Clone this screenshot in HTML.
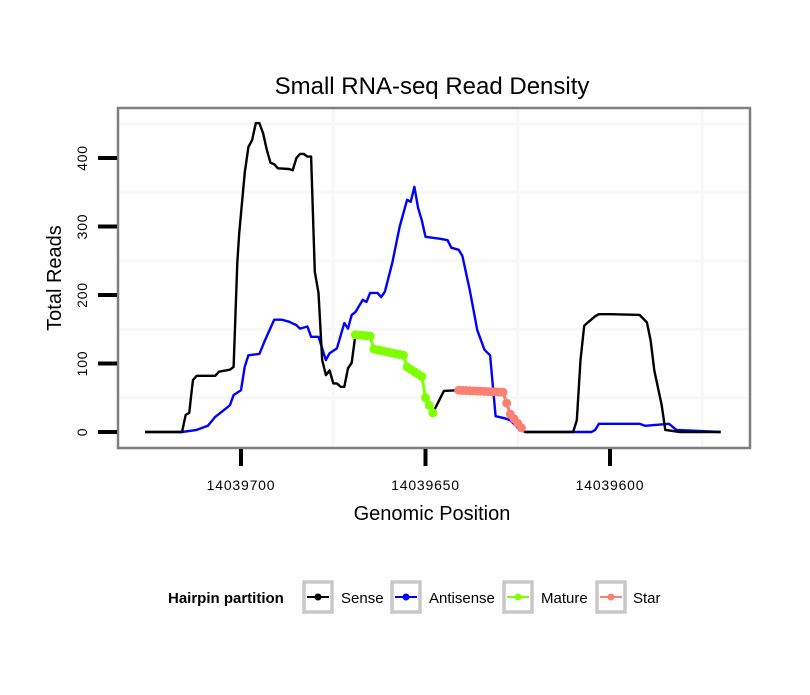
<!DOCTYPE html>
<html><head><meta charset="utf-8"><style>
body{margin:0;background:#fff;}
svg text{font-family:"Liberation Sans",sans-serif;}
</style></head><body>
<svg id="chart" width="810" height="690" xmlns="http://www.w3.org/2000/svg">
<rect width="810" height="690" fill="#fff"/>
<text x="432" y="94" font-size="24" text-anchor="middle">Small RNA-seq Read Density</text>
<g id="grid"></g>
<g id="series"></g>
<rect x="118" y="108" width="632" height="340" fill="none" stroke="#7f7f7f" stroke-width="2.5"/>
<g id="axes"></g>
<text x="432" y="520" font-size="20" text-anchor="middle">Genomic Position</text>
<text transform="translate(61,278) rotate(-90)" font-size="20" text-anchor="middle">Total Reads</text>
<g>
<text x="168" y="603" font-size="15" font-weight="bold">Hairpin partition</text>
<g>
<rect x="304" y="582" width="28" height="30" fill="#fff" stroke="#c8c8c8" stroke-width="3.5"/>
<line x1="307" y1="597" x2="329" y2="597" stroke="#000" stroke-width="2"/><circle cx="318" cy="597" r="3.5" fill="#000"/>
<text x="341" y="603" font-size="15">Sense</text></g>
<g>
<rect x="392" y="582" width="28" height="30" fill="#fff" stroke="#c8c8c8" stroke-width="3.5"/>
<line x1="395" y1="597" x2="417" y2="597" stroke="#0000ff" stroke-width="2"/><circle cx="406" cy="597" r="3.5" fill="#0000ff"/>
<text x="429" y="603" font-size="15">Antisense</text></g>
<g>
<rect x="504" y="582" width="28" height="30" fill="#fff" stroke="#c8c8c8" stroke-width="3.5"/>
<line x1="507" y1="597" x2="529" y2="597" stroke="#7fff00" stroke-width="2"/><circle cx="518" cy="597" r="3.5" fill="#7fff00"/>
<text x="541" y="603" font-size="15">Mature</text></g>
<g>
<rect x="597" y="582" width="28" height="30" fill="#fff" stroke="#c8c8c8" stroke-width="3.5"/>
<line x1="600" y1="597" x2="622" y2="597" stroke="#fa8072" stroke-width="2"/><circle cx="611" cy="597" r="3.5" fill="#fa8072"/>
<text x="633" y="603" font-size="15">Star</text></g>
</g>
</svg>
<script>
const xTicks = [14039700, 14039650, 14039600];
const xMinorGrid = [14039675, 14039625, 14039575];
const yTicks = [0, 100, 200, 300, 400];
const yMinorGrid = [50, 150, 250, 350, 450];
const senseX = [14039726,14039716,14039715,14039714,14039713.5,14039713,14039712,14039707,14039706,14039703,14039702,14039701,14039700.5,14039699,14039698,14039697,14039696,14039695,14039694,14039693,14039692,14039691,14039690,14039687,14039686,14039685,14039684,14039683,14039682,14039681,14039680,14039679,14039678,14039677,14039676,14039675,14039674,14039673,14039672,14039671,14039670,14039669,14039665,14039664,14039656,14039655,14039651,14039650,14039649,14039648,14039645,14039641,14039629,14039628,14039627,14039624,14039623,14039610,14039609,14039608,14039607,14039606,14039604,14039603,14039600,14039592,14039590,14039589,14039588,14039586,14039585,14039581,14039570];
const senseY = [0,0,25,28,54,76,82,82,88,91,95,247,290,378,416,426,451,451,436,412,393,391,385,384,382,400,406,406,402,402,234,203,105,83,90,71,71,66,66,93,101,142,140,121,112,95,81,50,39,28,60,61,58,42,26,6,0,0,17,105,155,160,169,172,172,171,160,134,90,39,3,0,0];
const antiX = [14039726,14039716,14039712,14039709,14039707,14039703,14039702,14039700,14039699,14039698,14039695,14039693.5,14039691,14039689,14039687,14039685,14039684,14039682,14039681,14039679,14039677,14039676,14039674,14039672,14039671,14039670,14039669,14039667,14039666,14039665,14039663,14039662,14039661,14039659,14039657,14039655,14039654,14039653,14039652,14039651,14039650,14039646,14039644,14039643,14039641,14039640,14039638,14039636,14039634,14039632.5,14039631,14039628.5,14039627,14039625,14039623,14039605,14039604,14039603,14039592,14039590.5,14039584,14039582,14039570];
const antiY = [0,0,3,9,22,39,54,61,95,112,114,134,164,164,161,156,151,154,139,139,105,115,122,159,151,171,175,193,190,203,203,197,205,247,300,339,336,358,327,309,285,282,280,269,266,257,207,149,120,112,23,20,17,6,0,0,3,12,12,9,12,3,0];
const matureRange = [14039669, 14039648];
const starRange = [14039641, 14039624];

const NS = "http://www.w3.org/2000/svg";
function xScale(p){ return 241 + (14039700 - p) * 3.69; }
function yScale(v){ return 432 - v * 0.685; }
function mk(tag, attrs, parent){ const e=document.createElementNS(NS,tag); for(const k in attrs) e.setAttribute(k,attrs[k]); parent.appendChild(e); return e; }

const grid = document.getElementById('grid');
yMinorGrid.forEach(v=>{ const l=mk('line',{x1:119,x2:749,y1:yScale(v),y2:yScale(v),stroke:'#f8f8f8','stroke-width':3},grid);

 });
xMinorGrid.forEach(p=>{ const l=mk('line',{x1:xScale(p),x2:xScale(p),y1:109,y2:447,stroke:'#f8f8f8','stroke-width':3},grid);

 });

const axes = document.getElementById('axes');
yTicks.forEach(v=>{ const y=yScale(v);
 const t=mk('line',{x1:98,x2:117,y1:y,y2:y,stroke:'#000','stroke-width':4},axes);
 
 
 const tx=mk('text',{transform:`translate(87,${y}) rotate(-90)`,'font-size':14,'text-anchor':'middle','letter-spacing':'0.8'},axes);
 tx.textContent=v;
 
  });
xTicks.forEach(p=>{ const x=xScale(p);
 const t=mk('line',{x1:x,x2:x,y1:449,y2:466,stroke:'#000','stroke-width':4},axes);
 
 
 const tx=mk('text',{x:x,y:490,'font-size':14,'text-anchor':'middle','letter-spacing':'0.8'},axes);
 tx.textContent=p;
 
  });

const series = document.getElementById('series');
function path(xs,ys){ return xs.map((p,i)=>(i?'L':'M')+xScale(p).toFixed(1)+','+yScale(ys[i]).toFixed(1)).join(''); }
const a=mk('path',{d:path(antiX,antiY),fill:'none',stroke:'#0000ff','stroke-width':2.4,'stroke-linejoin':'round'},series);


const s=mk('path',{d:path(senseX,senseY),fill:'none',stroke:'#000','stroke-width':2.4,'stroke-linejoin':'round'},series);


function valAt(p){ for(let i=0;i<senseX.length-1;i++){ const a=senseX[i],b=senseX[i+1]; if(p<=a&&p>=b){ const t=(a-p)/(a-b||1); return senseY[i]+(senseY[i+1]-senseY[i])*t; } } return 0; }
function segment(range,color,name){
 for(let p=range[0]; p>range[1]; p-=1){
  const l=mk('line',{x1:xScale(p),y1:yScale(valAt(p)),x2:xScale(p-1),y2:yScale(valAt(p-1)),stroke:color,'stroke-width':3},series);
  
  
 }
 for(let p=range[0]; p>=range[1]; p-=1){
  const c=mk('circle',{cx:xScale(p),cy:yScale(valAt(p)),r:4.5,fill:color},series);
  
  
 }
}
segment(matureRange,'#7fff00','mature');
segment(starRange,'#fa8072','star');
</script>
</body></html>
